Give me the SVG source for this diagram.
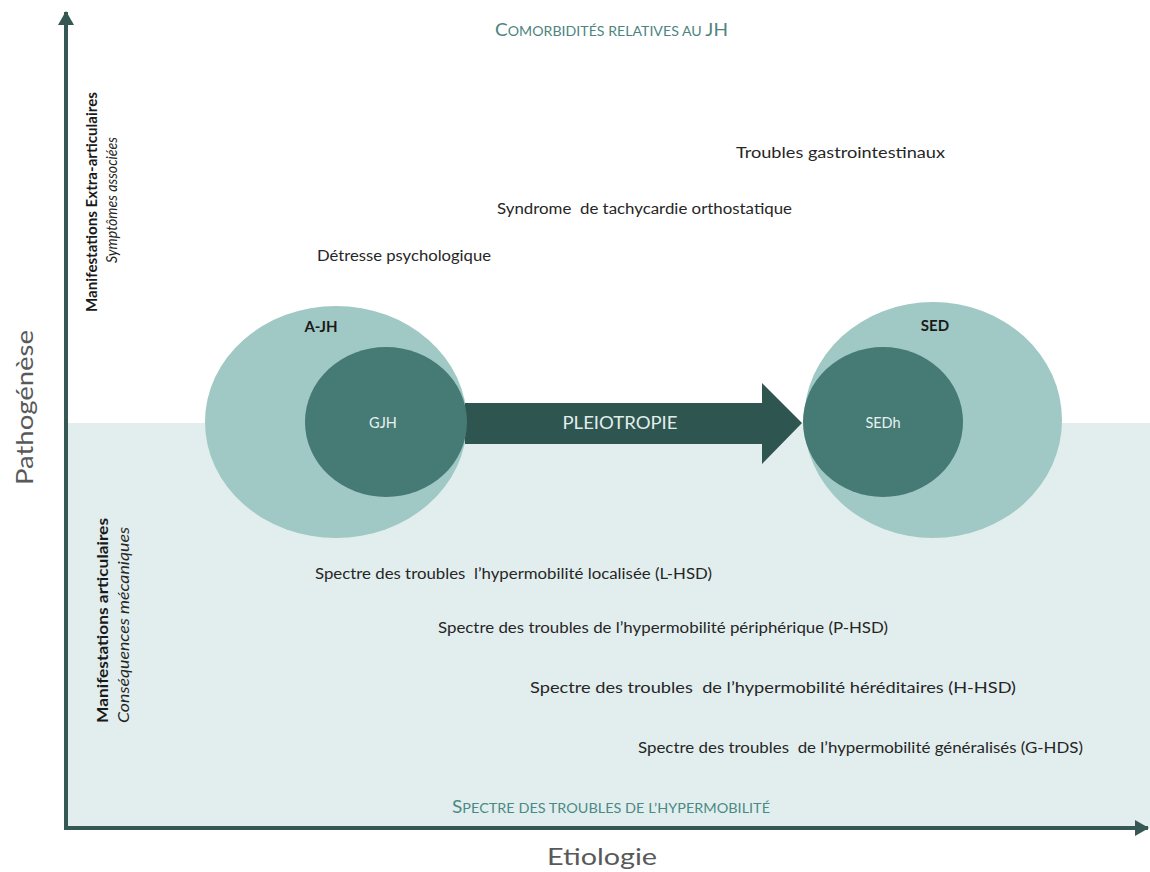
<svg xmlns="http://www.w3.org/2000/svg" width="1150" height="872" viewBox="0 0 1150 872">
<defs>
<style>
.t{font-family:Lato,"Liberation Sans",Arial,sans-serif;font-size:15.5px;fill:#262626}
.cap{font-family:Lato,"Liberation Sans",Arial,sans-serif;fill:#4d8580}
.ax{stroke:#365854;stroke-width:4;fill:none}
.outer{fill:#a0c8c5}
.inner{fill:#467a75}
.lbl{font-family:Lato,"Liberation Sans",Arial,sans-serif;font-size:15px;font-weight:bold;fill:#1a1a1a;text-anchor:middle}
.in{font-family:Lato,"Liberation Sans",Arial,sans-serif;font-size:14.5px;fill:#e6f1f0;text-anchor:middle}
.big{font-family:Lato,"Liberation Sans",Arial,sans-serif;font-size:23px;fill:#595959}
.vb{font-family:Lato,"Liberation Sans",Arial,sans-serif;font-size:15px;font-weight:bold;fill:#1a1a1a}
.vi{font-family:Lato,"Liberation Sans",Arial,sans-serif;font-size:15px;font-style:italic;fill:#262626}
</style>
<marker id="ah" markerUnits="userSpaceOnUse" markerWidth="16" markerHeight="16" viewBox="0 0 14 16" refX="13" refY="8" orient="auto">
<path d="M0,0 L14,8 L0,16 Z" fill="#365854"/>
</marker>
</defs>
<rect x="0" y="0" width="1150" height="872" fill="#ffffff"/>
<rect x="66" y="423" width="1084" height="405" fill="#e2eeee"/>

<g id="node-AJH">
<ellipse class="outer" cx="336" cy="422" rx="131" ry="116"/>
<text class="lbl" x="321" y="332">A-JH</text>
</g>
<g id="node-SED">
<ellipse class="outer" cx="933" cy="420" rx="129" ry="118"/>
<text class="lbl" x="935" y="331">SED</text>
</g>

<g id="connectors">
<path id="pleiotropie" d="M465,403 H762 V383 L802,423 L762,464 V444 H465 Z" fill="#2f5550"/>
<text x="620" y="429" textLength="115" lengthAdjust="spacingAndGlyphs" style="font-family:Lato,'Liberation Sans',Arial,sans-serif;font-size:17.5px;fill:#e0eeec;text-anchor:middle">PLEIOTROPIE</text>
<line class="ax" x1="66" y1="830" x2="66" y2="12" marker-end="url(#ah)"/>
<line class="ax" x1="64" y1="828" x2="1148" y2="828" marker-end="url(#ah)"/>
</g>

<g id="node-GJH">
<ellipse class="inner" cx="386" cy="422" rx="81" ry="75"/>
<text class="in" x="383" y="428">GJH</text>
</g>
<g id="node-SEDh">
<ellipse class="inner" cx="883" cy="422" rx="80" ry="75"/>
<text class="in" x="883" y="428">SEDh</text>
</g>

<g id="node-comorbidites">
<text class="cap" x="495" y="36" textLength="233" lengthAdjust="spacingAndGlyphs"><tspan font-size="17.5">C</tspan><tspan font-size="13">OMORBIDITÉS RELATIVES AU </tspan><tspan font-size="17.5">JH</tspan></text>
</g>
<g id="node-gastro"><text class="t" x="736" y="158" textLength="209" lengthAdjust="spacingAndGlyphs">Troubles gastrointestinaux</text></g>
<g id="node-tachy"><text class="t" x="497" y="214" textLength="295" lengthAdjust="spacingAndGlyphs" xml:space="preserve">Syndrome  de tachycardie orthostatique</text></g>
<g id="node-detresse"><text class="t" x="317" y="261" textLength="174" lengthAdjust="spacingAndGlyphs">Détresse psychologique</text></g>

<g id="node-lhsd"><text class="t" x="315" y="579" textLength="397" lengthAdjust="spacingAndGlyphs" xml:space="preserve">Spectre des troubles  l’hypermobilité localisée (L-HSD)</text></g>
<g id="node-phsd"><text class="t" x="438" y="633" textLength="450" lengthAdjust="spacingAndGlyphs">Spectre des troubles de l’hypermobilité périphérique (P-HSD)</text></g>
<g id="node-hhsd"><text class="t" x="530" y="693" textLength="486" lengthAdjust="spacingAndGlyphs" xml:space="preserve">Spectre des troubles  de l’hypermobilité héréditaires (H-HSD)</text></g>
<g id="node-ghds"><text class="t" x="638" y="753" textLength="445" lengthAdjust="spacingAndGlyphs" xml:space="preserve">Spectre des troubles  de l’hypermobilité généralisés (G-HDS)</text></g>

<g id="node-spectre">
<text class="cap" x="452" y="813" textLength="318" lengthAdjust="spacingAndGlyphs" style="fill:#4a8a86"><tspan font-size="16.5">S</tspan><tspan font-size="12.5">PECTRE DES TROUBLES DE L’HYPERMOBILITÉ</tspan></text>
</g>

<g id="node-extra">
<text class="vb" transform="translate(97,202) rotate(-90)" x="0" y="0" text-anchor="middle" textLength="220" lengthAdjust="spacingAndGlyphs">Manifestations Extra-articulaires</text>
<text class="vi" transform="translate(117,200) rotate(-90)" x="0" y="0" text-anchor="middle" textLength="126" lengthAdjust="spacingAndGlyphs">Symptômes associées</text>
</g>
<g id="node-articulaires">
<text class="vb" transform="translate(108,723) rotate(-90)" x="0" y="0" textLength="205" lengthAdjust="spacingAndGlyphs">Manifestations articulaires</text>
<text class="vi" transform="translate(129,723) rotate(-90)" x="0" y="0" textLength="196" lengthAdjust="spacingAndGlyphs">Conséquences mécaniques</text>
</g>

<g id="node-pathogenese">
<text class="big" transform="translate(33,485) rotate(-90)" x="0" y="0" textLength="155" lengthAdjust="spacingAndGlyphs">Pathogénèse</text>
</g>
<g id="node-etiologie">
<text class="big" x="547" y="865" textLength="110" lengthAdjust="spacingAndGlyphs">Etiologie</text>
</g>
</svg>
